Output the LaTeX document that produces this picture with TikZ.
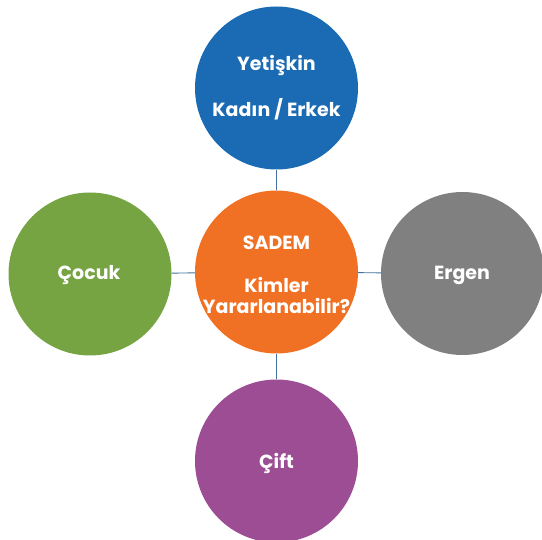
\documentclass[tikz,border=0pt]{standalone}
\usepackage{fontspec}
\setmainfont{Poppins}
\definecolor{cblue}{HTML}{1A6BB3}
\definecolor{corange}{HTML}{F07124}
\definecolor{cgray}{HTML}{7F807F}
\definecolor{cgreen}{HTML}{76A443}
\definecolor{cpurple}{HTML}{9C4D93}
\definecolor{cline}{HTML}{41719C}
\begin{document}
\begin{tikzpicture}[x=1pt,y=-1pt,
  bubble/.style={circle,inner sep=0pt,minimum size=163pt,text=white,align=center,
    font=\fontsize{19}{20.5}\selectfont\bfseries},
  link/.style={draw=cline,line width=0.9pt}]
\useasboundingbox (0,0) rectangle (542,540);
\node[bubble,fill=corange] (c) at (276.5,272) {};
\node[bubble,fill=cblue] (t) at (276.5,88) {};
\node[bubble,fill=cgreen] (l) at (90,274) {};
\node[bubble,fill=cgray] (r) at (462.5,273.5) {};
\node[bubble,fill=cpurple] (b) at (276.5,461) {};
\node[bubble,minimum size=0pt] (ct) at (276.5,274.5) {SADEM\\[23pt]Kimler\\Yararlanabilir?};
\node[bubble,minimum size=0pt] (tt) at (276.5,88) {Yetişkin\\[22pt]Kadın / Erkek};
\node[bubble,minimum size=0pt] (lt) at (89,275) {Çocuk};
\node[bubble,minimum size=0pt] (rt) at (462,275) {Ergen};
\node[bubble,minimum size=0pt] (bt) at (276.5,463) {Çift};
\draw[link] (c) -- (t);
\draw[link] (c) -- (l);
\draw[link] (c) -- (r);
\draw[link] (c) -- (b);
\end{tikzpicture}
\end{document}
